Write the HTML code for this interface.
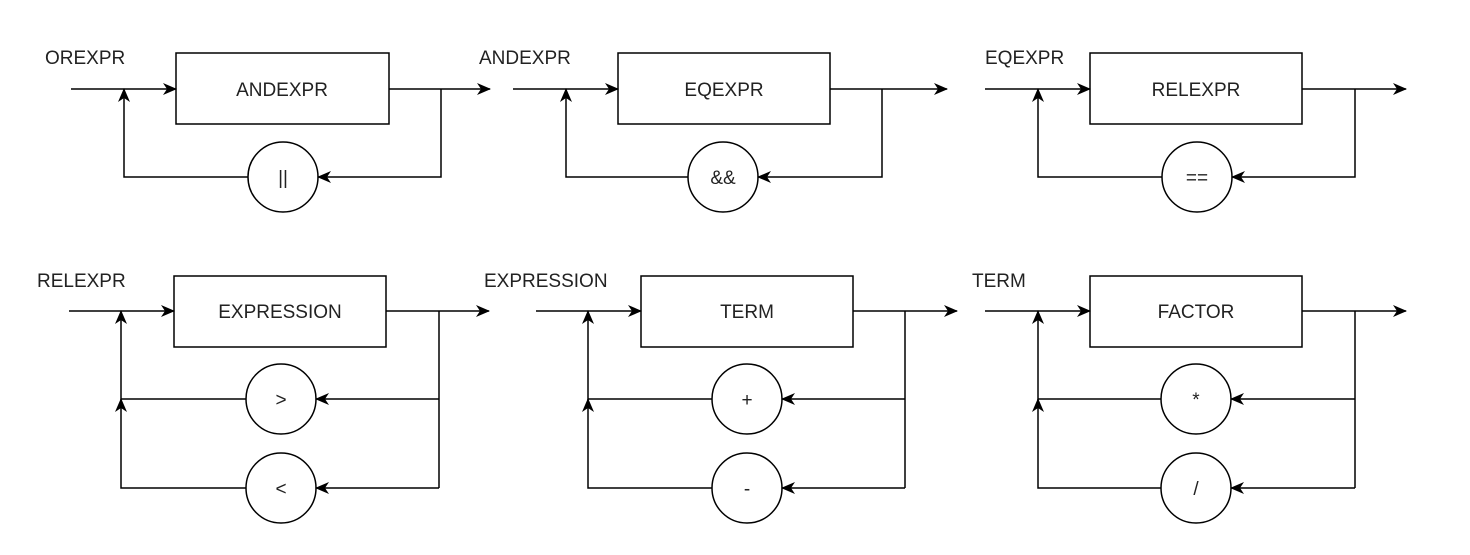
<!DOCTYPE html>
<html><head><meta charset="utf-8"><style>
html,body{margin:0;padding:0;background:#fff;}
svg{display:block;}
text{font-family:"Liberation Sans",sans-serif;font-size:19px;fill:#222;}
</style></head><body>
<svg width="1470" height="555" viewBox="0 0 1470 555" xmlns="http://www.w3.org/2000/svg">
<defs>
<marker id="a" markerWidth="14" markerHeight="12" refX="13" refY="6" orient="auto" markerUnits="userSpaceOnUse">
<path d="M0,0 L14,6 L0,12 L4,6 Z" fill="#000"/>
</marker>
</defs>
<g stroke="#000" stroke-width="1.5" fill="none">
<!-- D1 -->
<path d="M71,89 H176" marker-end="url(#a)"/>
<rect x="176" y="53" width="213" height="71"/>
<path d="M389,89 H490" marker-end="url(#a)"/>
<path d="M441,89 V177 H318" marker-end="url(#a)"/>
<circle cx="283" cy="177" r="35"/>
<path d="M248,177 H124 V89" marker-end="url(#a)"/>
<!-- D2 -->
<path d="M513,89 H618" marker-end="url(#a)"/>
<rect x="618" y="53" width="212" height="71"/>
<path d="M830,89 H947" marker-end="url(#a)"/>
<path d="M882,89 V177 H758" marker-end="url(#a)"/>
<circle cx="723" cy="177" r="35"/>
<path d="M688,177 H566 V89" marker-end="url(#a)"/>
<!-- D3 -->
<path d="M985,89 H1090" marker-end="url(#a)"/>
<rect x="1090" y="53" width="212" height="71"/>
<path d="M1302,89 H1406" marker-end="url(#a)"/>
<path d="M1355,89 V177 H1232" marker-end="url(#a)"/>
<circle cx="1197" cy="177" r="35"/>
<path d="M1162,177 H1038 V89" marker-end="url(#a)"/>
<!-- D4 -->
<path d="M69,311 H174" marker-end="url(#a)"/>
<rect x="174" y="276" width="212" height="71"/>
<path d="M386,311 H489" marker-end="url(#a)"/>
<path d="M439,311 V488"/>
<path d="M439,399 H316" marker-end="url(#a)"/>
<path d="M439,488 H316" marker-end="url(#a)"/>
<circle cx="281" cy="399" r="35"/>
<circle cx="281" cy="488" r="35"/>
<path d="M246,399 H121 V311" marker-end="url(#a)"/>
<path d="M246,488 H121 V399" marker-end="url(#a)"/>
<!-- D5 -->
<path d="M536,311 H641" marker-end="url(#a)"/>
<rect x="641" y="276" width="212" height="71"/>
<path d="M853,311 H957" marker-end="url(#a)"/>
<path d="M905,311 V488"/>
<path d="M905,399 H782" marker-end="url(#a)"/>
<path d="M905,488 H782" marker-end="url(#a)"/>
<circle cx="747" cy="399" r="35"/>
<circle cx="747" cy="488" r="35"/>
<path d="M712,399 H588 V311" marker-end="url(#a)"/>
<path d="M712,488 H588 V399" marker-end="url(#a)"/>
<!-- D6 -->
<path d="M985,311 H1090" marker-end="url(#a)"/>
<rect x="1090" y="276" width="212" height="71"/>
<path d="M1302,311 H1406" marker-end="url(#a)"/>
<path d="M1355,311 V488"/>
<path d="M1355,399 H1231" marker-end="url(#a)"/>
<path d="M1355,488 H1231" marker-end="url(#a)"/>
<circle cx="1196" cy="399" r="35"/>
<circle cx="1196" cy="488" r="35"/>
<path d="M1161,399 H1038 V311" marker-end="url(#a)"/>
<path d="M1161,488 H1038 V399" marker-end="url(#a)"/>
</g>
<g>
<text x="45" y="64">OREXPR</text>
<text x="479" y="64">ANDEXPR</text>
<text x="985" y="64">EQEXPR</text>
<text x="37" y="287">RELEXPR</text>
<text x="484" y="287">EXPRESSION</text>
<text x="972" y="287">TERM</text>
</g>
<g text-anchor="middle">
<text x="282" y="96">ANDEXPR</text>
<text x="724" y="96">EQEXPR</text>
<text x="1196" y="96">RELEXPR</text>
<text x="280" y="318">EXPRESSION</text>
<text x="747" y="318">TERM</text>
<text x="1196" y="318">FACTOR</text>
<text x="283" y="184">||</text>
<text x="723" y="184">&amp;&amp;</text>
<text x="1197" y="184">==</text>
<text x="281" y="406">&gt;</text>
<text x="281" y="495">&lt;</text>
<text x="747" y="406">+</text>
<text x="747" y="495">-</text>
<text x="1196" y="406">*</text>
<text x="1196" y="495">/</text>
</g>
</svg>
</body></html>
